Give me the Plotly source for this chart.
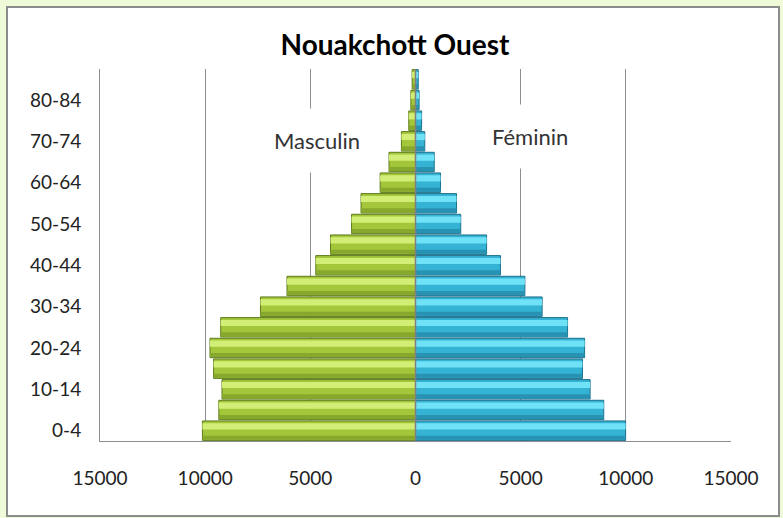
import plotly.graph_objects as go

# ---- data ----
age_groups = ["0-4", "5-9", "10-14", "15-19", "20-24", "25-29", "30-34", "35-39",
              "40-44", "45-49", "50-54", "55-59", "60-64", "65-69", "70-74",
              "75-79", "80-84", "85+"]
masculin = [10130, 9350, 9200, 9600, 9770, 9260, 7370, 6110, 4740, 4040,
            3040, 2590, 1680, 1260, 670, 320, 220, 160]
feminin = [9990, 8950, 8300, 7940, 8040, 7230, 6020, 5200, 4040, 3380,
           2150, 1950, 1190, 890, 440, 290, 170, 130]
y_tick_labels = age_groups[::2]
x_tick_values = [-15000, -10000, -5000, 0, 5000, 10000, 15000]
x_tick_labels = [str(abs(v)) for v in x_tick_values]

FONT = "Lato, 'Open Sans', sans-serif"

male_x = [-v for v in masculin]

fig = go.Figure()


def add_bars(xvals, base, edge, light, shade):
    # main bar body
    fig.add_trace(go.Bar(x=xvals, y=age_groups, orientation="h",
                         width=0.94, offset=-0.47,
                         marker=dict(color=base, line=dict(color=edge, width=1)),
                         hoverinfo="x+y", showlegend=False))
    # lower shade
    fig.add_trace(go.Bar(x=xvals, y=age_groups, orientation="h",
                         width=0.2, offset=-0.44,
                         marker=dict(color=shade, line=dict(width=0)),
                         hoverinfo="skip", showlegend=False))
    # upper highlight
    fig.add_trace(go.Bar(x=xvals, y=age_groups, orientation="h",
                         width=0.3, offset=0.06,
                         marker=dict(color=light, line=dict(width=0)),
                         hoverinfo="skip", showlegend=False))


add_bars(male_x, "#a3c63b", "#5d7a1c", "#d2ee76", "#86a82c")
add_bars(feminin, "#35b3d5", "#1c6f8a", "#70e2f7", "#2892b2")

# frame behind the chart (white card on pale green background)
fig.add_shape(type="rect", xref="paper", yref="paper",
              x0=-0.1474, x1=1.0761, y0=-0.2016, y1=1.1667,
              fillcolor="white", line=dict(color="#8c8c8c", width=2),
              layer="below")
# centre line between the two halves
fig.add_shape(type="line", xref="x", yref="paper", x0=0, x1=0, y0=0, y1=1,
              line=dict(color="#7f7f7f", width=1.5), layer="above")

fig.add_annotation(text="Masculin", x=-4693, xref="x", y=0.808, yref="paper",
                   xanchor="center", yanchor="middle",
                   showarrow=False, font=dict(family=FONT, size=22, color="#333333"),
                   bgcolor="white", borderpad=18)
fig.add_annotation(text="Féminin", x=5434, xref="x", y=0.818, yref="paper",
                   xanchor="center", yanchor="middle",
                   showarrow=False, font=dict(family=FONT, size=22, color="#333333"),
                   bgcolor="white", borderpad=18)

fig.update_layout(
    width=783, height=518,
    margin=dict(l=100, r=52, t=69, b=77, pad=0),
    paper_bgcolor="#eefad8",
    plot_bgcolor="rgba(0,0,0,0)",
    barmode="overlay",
    showlegend=False,
    title=dict(text="<b>Nouakchott Ouest</b>", x=0.5045, xref="container",
               y=0.913, yref="container", xanchor="center", yanchor="middle",
               font=dict(family=FONT, size=28, color="#000000")),
    font=dict(family=FONT, color="#222222"),
)

fig.update_xaxes(range=[-15000, 15000], tickvals=x_tick_values, ticktext=x_tick_labels,
                 showgrid=True, gridcolor="#8f8f8f", gridwidth=1,
                 zeroline=False, showline=True, linecolor="#8f8f8f", linewidth=1,
                 ticks="", ticklabelstandoff=20,
                 tickfont=dict(family=FONT, size=19, color="#222222"),
                 fixedrange=True)
fig.update_yaxes(type="category", categoryorder="array", categoryarray=age_groups,
                 range=[-0.5, len(age_groups) - 0.5],
                 tickvals=y_tick_labels, ticktext=y_tick_labels,
                 showgrid=False, zeroline=False, showline=True,
                 linecolor="#8f8f8f", linewidth=1, mirror=False,
                 ticks="", ticklabelstandoff=14,
                 tickfont=dict(family=FONT, size=19, color="#222222"),
                 fixedrange=True)

fig.write_html("out.html", config={"displayModeBar": False})

# remove default page margin so the 783x518 figure fills the window exactly
with open("out.html", "r", encoding="utf-8") as f:
    html = f.read()
html = html.replace("<body>", '<body style="margin:0;padding:0;overflow:hidden">', 1)
with open("out.html", "w", encoding="utf-8") as f:
    f.write(html)
